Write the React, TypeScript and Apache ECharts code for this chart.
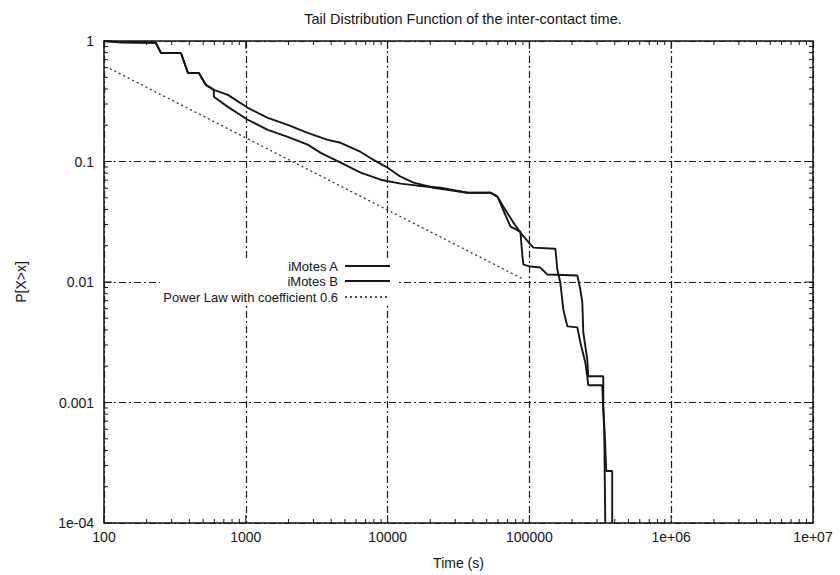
import React, { useEffect, useRef } from "react";
import * as echarts from "echarts";

const xTickLabels = ["100", "1000", "10000", "100000", "1e+06", "1e+07"];
const yTickLabels = ["1e-04", "0.001", "0.01", "0.1", "1"];

const aTime = [100, 130, 232, 252, 349, 391, 467, 523, 595, 747, 1033, 1429, 1977, 2733, 3779, 4667, 6457, 7967, 10000, 12350, 15240, 21080, 36600, 53100, 59500, 65600, 77100, 86400, 101600, 106700, 152400, 157400, 165200, 173500, 185300, 217900, 228600, 247900, 255900, 260100, 326400, 331900, 337300, 342800];
const aProb = [1, 0.975, 0.968, 0.796, 0.796, 0.543, 0.543, 0.432, 0.393, 0.357, 0.279, 0.23, 0.201, 0.173, 0.151, 0.143, 0.12, 0.103, 0.0887, 0.0748, 0.0667, 0.0606, 0.0551, 0.0551, 0.0511, 0.0422, 0.0311, 0.0257, 0.0205, 0.0193, 0.0189, 0.0127, 0.0099, 0.00592, 0.00428, 0.0042, 0.00316, 0.00215, 0.00165, 0.00139, 0.00139, 0.00088, 0.000567, 0.0001];

const bTime = [100, 130, 232, 252, 349, 391, 467, 523, 595, 595, 747, 1033, 1429, 1977, 2733, 3376, 4667, 6457, 8930, 12350, 16260, 23600, 36600, 53100, 59500, 73500, 86400, 89300, 90800, 101600, 119500, 133900, 217900, 228600, 236100, 240000, 255900, 260100, 331900, 331900, 342800, 348300, 383700, 383700];
const bProb = [1, 0.975, 0.968, 0.796, 0.796, 0.543, 0.543, 0.432, 0.393, 0.344, 0.284, 0.222, 0.183, 0.16, 0.138, 0.118, 0.0977, 0.0807, 0.0706, 0.0655, 0.063, 0.0606, 0.0551, 0.0551, 0.0511, 0.0288, 0.0262, 0.01626, 0.01396, 0.01343, 0.01318, 0.01153, 0.01132, 0.00867, 0.00677, 0.00382, 0.00228, 0.00165, 0.00165, 0.000931, 0.000434, 0.00027, 0.00027, 0.0001];

const powerTime = [110, 90000];
const powerProb = [0.59, 0.0106];

const seriesNames = ["iMotes A", "iMotes B", "Power Law with coefficient 0.6"];

export default function App() {
  const ref = useRef<HTMLDivElement>(null);
  useEffect(() => {
    document.body.style.margin = "0";
    const chart = echarts.init(ref.current!, null, { renderer: "svg" });
    const font = "'Liberation Sans', Arial, sans-serif";
    const ink = "#151515";
    const zip = (t: number[], p: number[]) => t.map((v, i) => [v, p[i]]);

    const xTicks: number[][] = [];
    for (let e = 2; e < 7; e++) for (let m = 1; m <= 9; m++) xTicks.push([m * Math.pow(10, e), 1]);
    const yTicks: number[][] = [];
    for (let e = -4; e < 0; e++) for (let m = 1; m <= 9; m++) yTicks.push([100, m * Math.pow(10, e)]);

    const isMajor = (v: number) => Math.abs(Math.log10(v) - Math.round(Math.log10(v))) < 1e-6;
    const tickStyle = { stroke: ink, lineWidth: 1 };
    const xTickRender = (params: any, api: any) => {
      const cs = params.coordSys;
      const v = api.value(0);
      const len = isMajor(v) ? 8 : 4;
      const px = api.coord([v, 1])[0];
      const b = cs.y + cs.height;
      return {
        type: "group",
        children: [
          { type: "line", shape: { x1: px, y1: b, x2: px, y2: b - len }, style: tickStyle },
          { type: "line", shape: { x1: px, y1: cs.y, x2: px, y2: cs.y + len }, style: tickStyle },
        ],
      };
    };
    const yTickRender = (params: any, api: any) => {
      const cs = params.coordSys;
      const v = api.value(1);
      const len = isMajor(v) ? 8 : 4;
      const py = api.coord([100, v])[1];
      const r = cs.x + cs.width;
      return {
        type: "group",
        children: [
          { type: "line", shape: { x1: cs.x, y1: py, x2: cs.x + len, y2: py }, style: tickStyle },
          { type: "line", shape: { x1: r, y1: py, x2: r - len, y2: py }, style: tickStyle },
        ],
      };
    };

    const gridLine = { show: true, lineStyle: { color: "#1a1a1a", width: 1.2, type: [7, 3, 2, 3] } };

    const legendX = 338;
    const legendRows = [266, 281, 297];
    const legendDash: any[] = ["solid", "solid", [2, 3]];

    chart.setOption({
      animation: false,
      backgroundColor: "#fff",
      title: {
        text: "Tail Distribution Function of the inter-contact time.",
        left: 458,
        top: 6,
        textAlign: "center",
        textStyle: { fontFamily: font, fontSize: 14.5, fontWeight: "normal", color: ink },
      },
      grid: { left: 104, right: 27, top: 41, bottom: 51, show: true, borderColor: ink, borderWidth: 1.5, backgroundColor: "transparent" },
      xAxis: {
        type: "log",
        logBase: 10,
        min: 100,
        max: 1e7,
        name: "Time (s)",
        nameLocation: "middle",
        nameGap: 33,
        nameTextStyle: { fontFamily: font, fontSize: 14, color: ink },
        axisLine: { show: false },
        axisTick: { show: false },
        splitLine: gridLine,
        axisLabel: {
          fontFamily: font,
          fontSize: 14,
          color: ink,
          margin: 7,
          formatter: (v: number) => xTickLabels[Math.round(Math.log10(v)) - 2] ?? "",
        },
      },
      yAxis: {
        type: "log",
        logBase: 10,
        min: 1e-4,
        max: 1,
        name: "P[X>x]",
        nameLocation: "middle",
        nameGap: 76,
        nameTextStyle: { fontFamily: font, fontSize: 14, color: ink },
        axisLine: { show: false },
        axisTick: { show: false },
        splitLine: gridLine,
        axisLabel: {
          fontFamily: font,
          fontSize: 14,
          color: ink,
          margin: 10,
          formatter: (v: number) => yTickLabels[Math.round(Math.log10(v)) + 4] ?? "",
        },
      },
      series: [
        { type: "custom", renderItem: xTickRender, data: xTicks, silent: true, z: 3 },
        { type: "custom", renderItem: yTickRender, data: yTicks, silent: true, z: 3 },
        {
          name: seriesNames[2],
          type: "line",
          data: zip(powerTime, powerProb),
          showSymbol: false,
          lineStyle: { color: "#333", width: 1.3, type: [2, 3] },
          z: 4,
        },
        {
          name: seriesNames[0],
          type: "line",
          data: zip(aTime, aProb),
          showSymbol: false,
          lineStyle: { color: ink, width: 1.9 },
          z: 5,
        },
        {
          name: seriesNames[1],
          type: "line",
          data: zip(bTime, bProb),
          showSymbol: false,
          lineStyle: { color: ink, width: 1.9 },
          z: 5,
        },
      ],
      graphic: [
        { type: "rect", shape: { x: 160, y: 258, width: 236, height: 47 }, style: { fill: "#fff" }, z: 10 },
        ...seriesNames.map((n, i) => ({
          type: "text",
          x: legendX,
          y: legendRows[i],
          z: 11,
          style: { text: n, textAlign: "right", textVerticalAlign: "middle", fontFamily: font, fontSize: 13, fill: ink },
        })),
        ...seriesNames.map((n, i) => ({
          type: "line",
          z: 11,
          shape: { x1: legendX + 7, y1: legendRows[i], x2: legendX + 52, y2: legendRows[i] },
          style: { stroke: ink, lineWidth: i === 2 ? 1.3 : 1.8, lineDash: legendDash[i] === "solid" ? null : legendDash[i] },
        })),
      ],
    });
    return () => chart.dispose();
  }, []);
  return <div ref={ref} style={{ width: 840, height: 575 }} />;
}
